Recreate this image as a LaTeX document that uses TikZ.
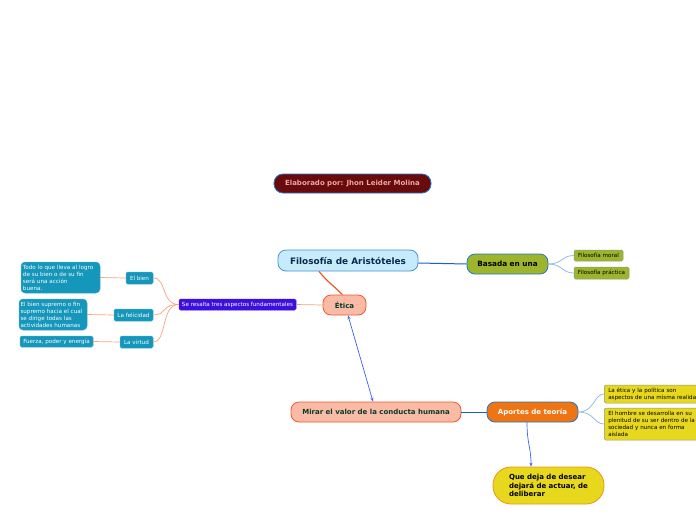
\documentclass[tikz,border=0pt]{standalone}
\usepackage{fontspec}
\setmainfont{DejaVu Sans}
\usetikzlibrary{arrows.meta}
\definecolor{cDarkRed}{HTML}{6A0B0B}
\definecolor{cBlueB}{HTML}{1F78C8}
\definecolor{cLightBlue}{HTML}{C6ECFC}
\definecolor{cSalmon}{HTML}{F9BBA6}
\definecolor{cOrangeB}{HTML}{EE5A2A}
\definecolor{cGreen}{HTML}{9CB52D}
\definecolor{cViolet}{HTML}{3D0FDC}
\definecolor{cTeal}{HTML}{1596BB}
\definecolor{cOrange}{HTML}{EF7413}
\definecolor{cYellow}{HTML}{E7D81E}
\definecolor{cNavy}{HTML}{0B2A4A}
\definecolor{cDkGreen}{HTML}{0A3A2A}
\definecolor{cPink}{HTML}{E8A8A8}
\definecolor{cGreyB}{HTML}{8A9A80}
\definecolor{cLineSalmon}{HTML}{F8A080}
\definecolor{cLineBlue}{HTML}{1A5FD0}
\definecolor{cLineLight}{HTML}{8AB4F0}
\definecolor{cArrow}{HTML}{4060F0}
\begin{document}
\begin{tikzpicture}[x=1pt,y=-1pt,
  >={Stealth[length=4pt,width=3pt]},
  box/.style={draw, line width=0.8pt, inner sep=0pt, align=center},
  big/.style={box, rounded corners=8pt, font=\bfseries\fontsize{7}{9}\selectfont},
  small/.style={box, line width=0.5pt, rounded corners=1.5pt, font=\fontsize{5.6}{7}\selectfont},
  tealbox/.style={small, fill=cTeal, draw=cTeal!80!white, text=white},
  yelbox/.style={small, fill=cYellow, draw=cGreyB, text=black, align=left, anchor=west},
  conn/.style={line width=0.7pt}
]
\clip (0,0) rectangle (696,520);
\fill[white] (0,0) rectangle (696,520);

% nodes
\node[big, fill=cDarkRed, draw=cBlueB, text=cPink, minimum width=157pt, minimum height=19pt, rounded corners=9pt] (elab) at (352.5,183.5) {Elaborado por: Jhon Leider Molina};
\node[big, fill=cLightBlue, draw=cBlueB!80!white, text=cNavy, minimum width=140pt, minimum height=21pt, font=\bfseries\fontsize{8.9}{10}\selectfont] (filo) at (348,260.5) {Filosofía de Aristóteles};
\node[big, fill=cSalmon, draw=cOrangeB, text=cDkGreen, minimum width=43pt, minimum height=20pt] (etica) at (344.5,305) {Ética};
\node[big, fill=cGreen, draw=cBlueB, text=black, minimum width=81pt, minimum height=20pt, font=\bfseries\fontsize{7.3}{9}\selectfont] (basada) at (507.5,264) {Basada en una};
\node[small, fill=cGreen, draw=cGreyB, text=black, minimum width=49pt, minimum height=11pt] (moral) at (598.5,255.5) {Filosofía moral};
\node[small, fill=cGreen, draw=cGreyB, text=black, minimum width=55pt, minimum height=12pt] (practica) at (601.5,273) {Filosofía práctica};

\node[small, fill=cViolet, draw=cViolet, text=white, minimum width=117pt, minimum height=11pt] (resalta) at (237.5,304.5) {Se resalta tres aspectos fundamentales};
\node[tealbox, minimum width=27pt, minimum height=12pt] (bien) at (139.5,278) {El bien};
\node[tealbox, minimum width=39pt, minimum height=12pt] (felicidad) at (133.5,315) {La felicidad};
\node[tealbox, minimum width=33pt, minimum height=12pt] (virtud) at (136.5,342) {La virtud};
\node[tealbox, rounded corners=4pt, align=left, minimum width=79pt, minimum height=31pt, text width=75pt] (todo) at (60.5,277.5) {Todo lo que lleva al logro\\de su bien o de su fin\\será una acción\\buena.};
\node[tealbox, rounded corners=4pt, align=left, minimum width=68pt, minimum height=31pt, text width=65pt] (supremo) at (53,314.5) {El bien supremo o fin\\supremo hacia el cual\\se dirige todas las\\actividades humanas};
\node[tealbox, minimum width=73pt, minimum height=11pt] (fuerza) at (56.5,341.5) {Fuerza, poder y energía};

\node[big, fill=cSalmon, draw=cOrangeB, text=cDkGreen, minimum width=170pt, minimum height=20pt] (mirar) at (376,412) {Mirar el valor de la conducta humana};
\node[big, fill=cOrange, draw=cBlueB, text=white, minimum width=91pt, minimum height=20pt] (aportes) at (532.5,412) {Aportes de teoría};
\node[yelbox, minimum width=110pt, minimum height=18pt, text width=104pt, inner xsep=4pt] (laetica) at (604,394) {La ética y la política son\\aspectos de una misma realidad};
\node[yelbox, minimum width=110pt, minimum height=32pt, text width=104pt, inner xsep=4pt] (hombre) at (604,424) {El hombre se desarrolla en su\\plenitud de su ser dentro de la\\sociedad y nunca en forma\\aislada};
\node[big, fill=cYellow, draw=cOrange!70!cYellow, text=black, align=left, minimum width=111pt, minimum height=37pt, rounded corners=18pt, font=\bfseries\fontsize{7}{8.5}\selectfont] (que) at (548.5,485.5) {Que deja de desear\\dejará de actuar, de\\deliberar};

% connectors
\draw[conn, line width=1.2pt, cOrangeB] ([xshift=-29pt]filo.south) .. controls +(8,10) and +(-8,-8) .. ([xshift=-2pt]etica.north);
\draw[conn, line width=1pt, cLineBlue] ([yshift=-2.5pt]filo.east) -- (basada.west);
\draw[conn, cLineLight] (basada.east) .. controls +(14,0) and +(-12,0) .. (moral.west);
\draw[conn, cLineLight] (basada.east) .. controls +(14,0) and +(-12,0) .. (practica.west);

\draw[conn, cLineSalmon] (etica.west) -- (resalta.east);
\draw[conn, cLineSalmon] (resalta.west) .. controls +(-18,0) and +(14,0) .. (bien.east);
\draw[conn, cLineSalmon] (resalta.west) .. controls +(-18,0) and +(14,0) .. (felicidad.east);
\draw[conn, cLineSalmon] (resalta.west) .. controls +(-18,0) and +(14,0) .. (virtud.east);
\draw[conn, cLineSalmon] (bien.west) -- (todo.east);
\draw[conn, cLineSalmon] (felicidad.west) -- (supremo.east);
\draw[conn, cLineSalmon] (virtud.west) -- (fuerza.east);

\draw[conn, cArrow, <->] ([xshift=3.5pt]etica.south) -- ([xshift=-3pt]mirar.north);
\draw[conn, line width=1pt, cLineBlue] (mirar.east) -- (aportes.west);
\draw[conn, cLineLight] (aportes.east) .. controls +(16,0) and +(-10,0) .. (laetica.west);
\draw[conn, cLineLight] (aportes.east) .. controls +(16,0) and +(-10,0) .. (hombre.west);
\draw[conn, cArrow, ->] ([xshift=-5.5pt]aportes.south) .. controls +(0,22) and +(0,-20) .. ([xshift=-17.5pt]que.north);
\end{tikzpicture}
\end{document}
